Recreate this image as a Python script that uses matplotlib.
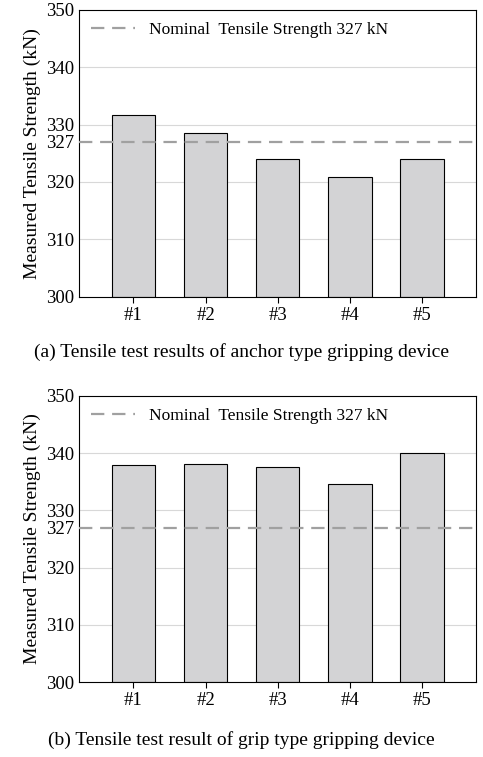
import matplotlib.pyplot as plt

labels = ["#1", "#2", "#3", "#4", "#5"]
anchor_vals = [331.6, 328.5, 324.0, 320.8, 324.0]
grip_vals = [338.0, 338.1, 337.6, 334.6, 340.0]
nominal = 327
captions = ["(a) Tensile test results of anchor type gripping device",
            "(b) Tensile test result of grip type gripping device"]

plt.rcParams['font.family'] = ['Liberation Serif', 'DejaVu Serif']
fig = plt.figure(figsize=(4.83, 7.57), dpi=100)
boxes = [[0.164, 0.608, 0.822, 0.379], [0.164, 0.099, 0.822, 0.378]]
cap_y = [352, 740]

for box, vals, cap, cy in zip(boxes, [anchor_vals, grip_vals], captions, cap_y):
    ax = fig.add_axes(box)
    x = range(len(labels))
    for g in [310, 320, 330, 340]:
        ax.axhline(g, color='#d8d8d8', lw=0.8, zorder=0)
    ax.bar(x, [v - 300 for v in vals], bottom=300, width=0.6, color='#d3d3d5',
           edgecolor='black', lw=0.8, zorder=2)
    ax.axhline(nominal, color='#a0a0a0', lw=1.6, ls=(0, (6, 3.5)), zorder=3,
               label='Nominal  Tensile Strength 327 kN')
    ax.set_ylim(300, 350)
    ax.set_xlim(-0.75, 4.75)
    ax.set_yticks([300, 310, 320, 327, 330, 340, 350])
    ax.set_xticks(list(x))
    ax.set_xticklabels(labels)
    ax.tick_params(axis='y', length=0, labelsize=13.5)
    ax.tick_params(axis='x', length=4, direction='out', labelsize=13.5)
    ax.set_ylabel('Measured Tensile Strength (kN)', fontsize=14)
    ax.legend(loc='upper left', frameon=False, fontsize=12.5, handlelength=2.5,
              borderaxespad=0.3)
    fig.text(0.5, 1 - cy / 757, cap, ha='center', va='center', fontsize=14)

fig.savefig('out.png', dpi=100)
